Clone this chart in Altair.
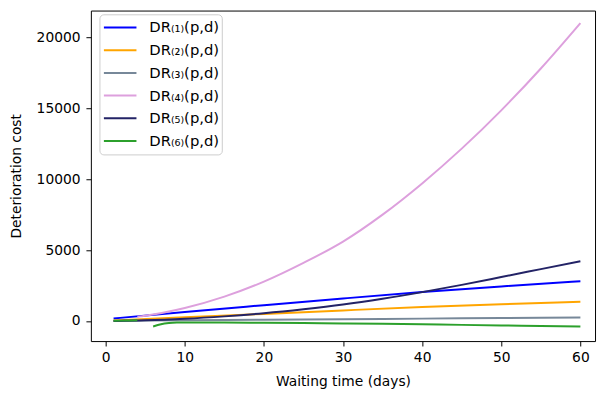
import altair as alt
import pandas as pd

names = ["DR₍₁₎(p,d)", "DR₍₂₎(p,d)", "DR₍₃₎(p,d)", "DR₍₄₎(p,d)", "DR₍₅₎(p,d)", "DR₍₆₎(p,d)"]
colors = ["#0000ff", "#ffa500", "#778899", "#dda0dd", "#232366", "#2ca02c"]

# series 1 (blue)
x1 = [1, 10, 20, 30, 40, 50, 60]
y1 = [180, 640, 1120, 1590, 2040, 2440, 2810]
# series 2 (orange)
x2 = [1, 10, 20, 30, 40, 50, 60]
y2 = [40, 260, 500, 750, 990, 1190, 1360]
# series 3 (gray)
x3 = [1, 10, 20, 30, 40, 50, 60]
y3 = [10, 50, 90, 130, 170, 210, 250]
# series 4 (pink)
x4 = [4, 5, 10, 15, 20, 25, 30, 35, 40, 45, 50, 55, 60]
y4 = [310, 380, 920, 1720, 2780, 4100, 5600, 7500, 9700, 12150, 14850, 17800, 21000]
# series 5 (navy)
x5 = [1, 5, 10, 15, 20, 25, 30, 35, 40, 45, 50, 55, 60]
y5 = [10, 50, 160, 330, 550, 830, 1160, 1570, 2040, 2550, 3100, 3660, 4220]
# series 6 (green), two pieces with a gap at day 5
x6a = [1, 2, 3, 4]
y6a = [20, 30, 40, 50]
x6b = [6, 7, 8, 9, 10, 15, 20, 25, 30, 35, 40, 45, 50, 55, 60]
y6b = [-380, -220, -140, -105, -95, -100, -120, -140, -165, -195, -230, -270, -310, -350, -390]

x_ticks = [0, 10, 20, 30, 40, 50, 60]
y_ticks = [0, 5000, 10000, 15000, 20000]

rows = []
def add(name, seg, xs, ys):
    for a, b in zip(xs, ys):
        rows.append({"series": name, "seg": seg, "x": a, "y": b})

add(names[0], "a", x1, y1)
add(names[1], "a", x2, y2)
add(names[2], "a", x3, y3)
add(names[3], "a", x4, y4)
add(names[4], "a", x5, y5)
add(names[5], "a", x6a, y6a)
add(names[5], "b", x6b, y6b)
df = pd.DataFrame(rows)

font = "DejaVu Sans"

chart = alt.Chart(df).mark_line(strokeWidth=2, interpolate="monotone").encode(
    x=alt.X("x:Q",
            scale=alt.Scale(domain=[-1.87, 61.85], nice=False, zero=False),
            axis=alt.Axis(values=x_ticks, title="Waiting time (days)", grid=False, domain=False,
                          tickSize=5, tickColor="black", labelColor="black", labelFontSize=14,
                          labelFont=font, labelPadding=5, titleFont=font, titleFontSize=14,
                          titleFontWeight="normal", titleColor="black", titleY=41,
                          titleBaseline="middle", labelFlush=False)),
    y=alt.Y("y:Q",
            scale=alt.Scale(domain=[-1411, 21881], nice=False, zero=False),
            axis=alt.Axis(values=y_ticks, format="d", title="Deterioration cost", grid=False,
                          domain=False, tickSize=5, tickColor="black", labelColor="black",
                          labelFontSize=14, labelFont=font, labelPadding=6, titleFont=font,
                          titleFontSize=14, titleFontWeight="normal", titleColor="black",
                          titleX=-75, titleBaseline="middle", labelFlush=False)),
    color=alt.Color("series:N",
                    scale=alt.Scale(domain=names, range=colors),
                    legend=alt.Legend(orient="none", legendX=8.7, legendY=3.8, title=None,
                                      symbolType="stroke", symbolSize=1089, symbolStrokeWidth=2,
                                      symbolOffset=1.5, clipHeight=22.8,
                                      labelFontSize=15, labelFont=font, labelColor="black",
                                      rowPadding=0, padding=2, labelOffset=12,
                                      strokeColor="#cccccc", fillColor="rgba(255,255,255,0.8)",
                                      cornerRadius=4)),
    detail="seg:N",
).properties(
    width=511, height=335, autosize="none",
    padding={"left": 84, "top": 0, "right": 2, "bottom": 47},
).configure_view(stroke="black", strokeWidth=1)

chart.save("out.html", embed_options={"renderer": "svg", "actions": False})
